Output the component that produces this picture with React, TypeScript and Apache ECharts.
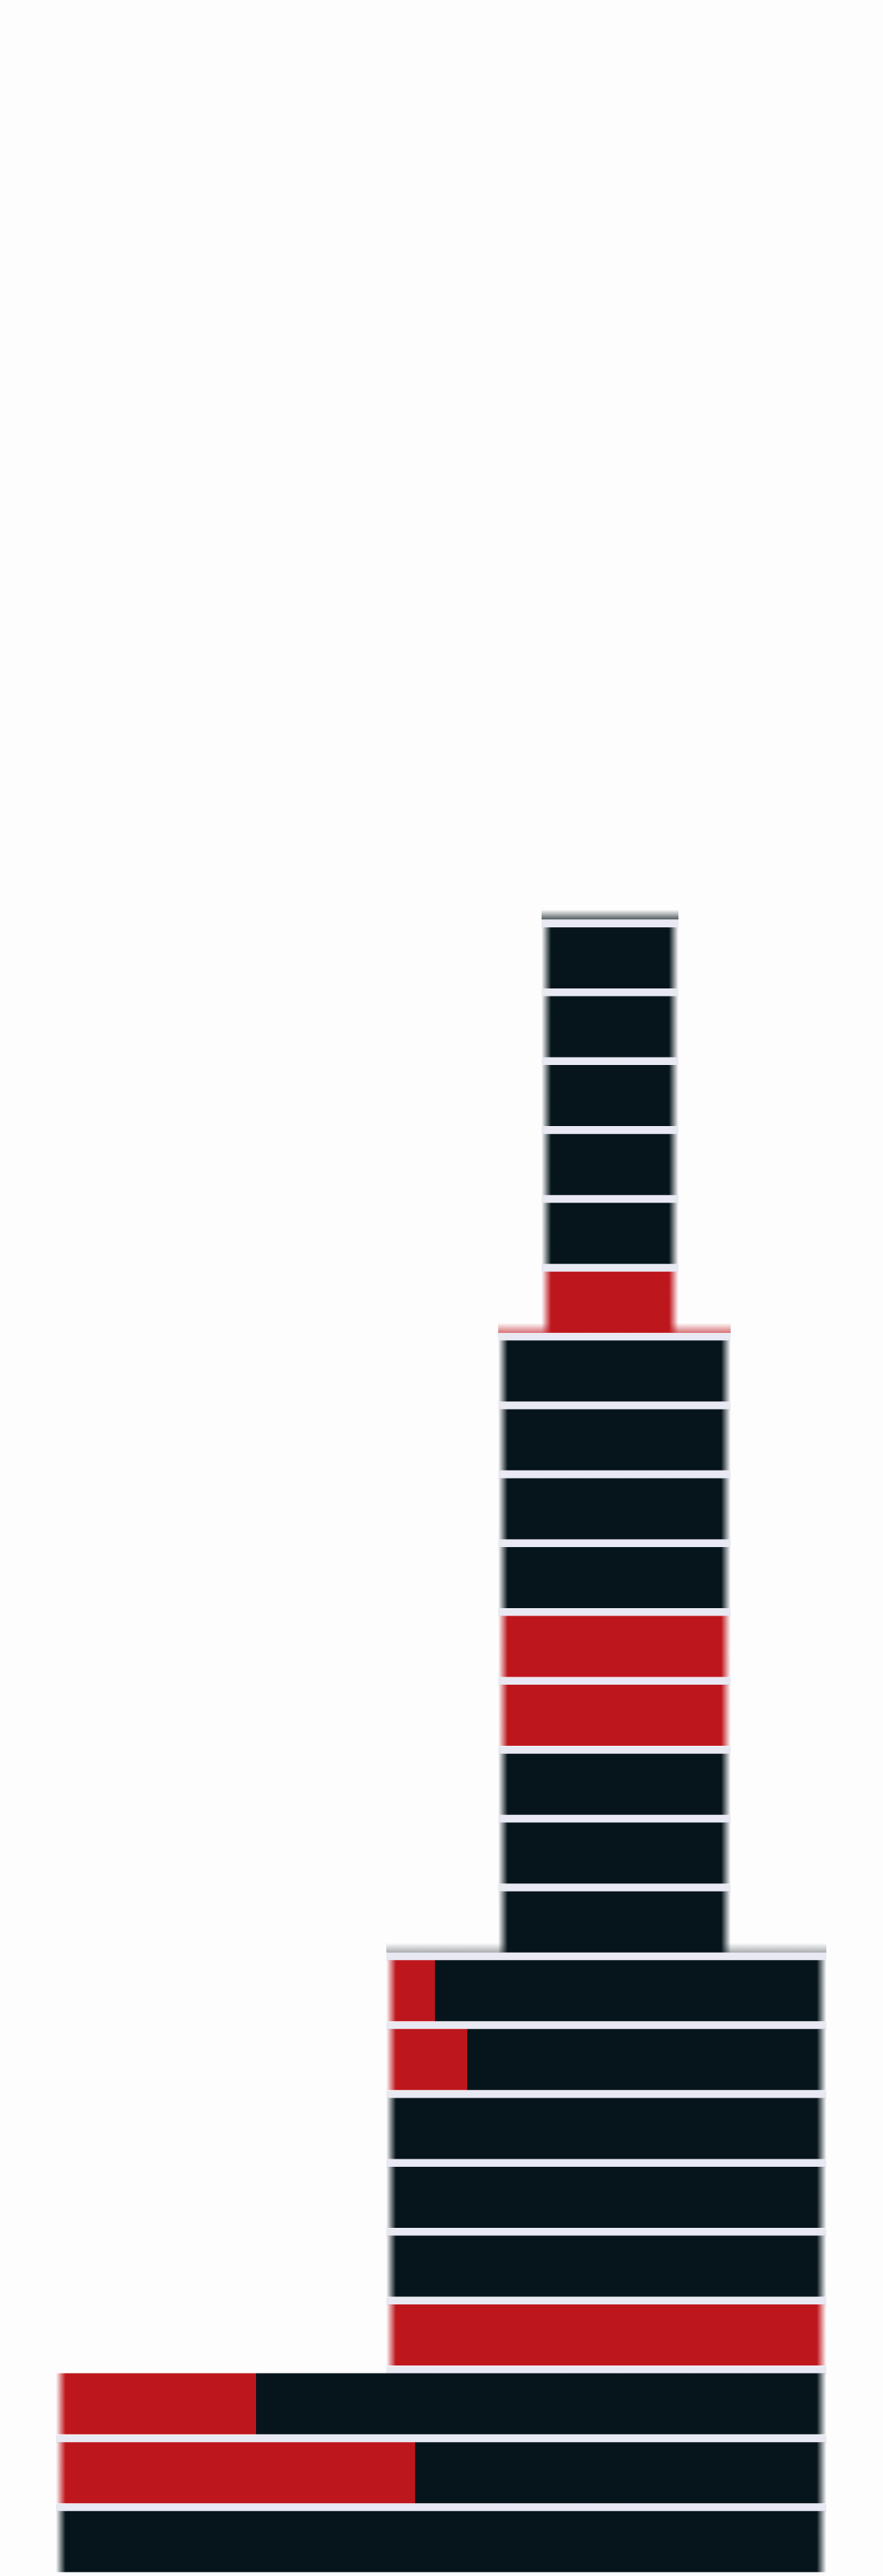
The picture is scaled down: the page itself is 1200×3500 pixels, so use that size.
import React, { useEffect, useRef } from "react";
import * as echarts from "echarts";

// ---- data (rows listed from the top of the tower down) ----
const floors = [
  "24F", "23F", "22F", "21F", "20F", "19F",
  "18F", "17F", "16F", "15F", "14F", "13F", "12F", "11F", "10F",
  "9F", "8F", "7F", "6F", "5F", "4F",
  "3F", "2F", "1F",
];
const tierOfRow = [
  0, 0, 0, 0, 0, 0,
  1, 1, 1, 1, 1, 1, 1, 1, 1,
  2, 2, 2, 2, 2, 2,
  3, 3, 3,
];
const offsetPart = [
  736, 736, 736, 736, 736, 736,
  677, 677, 677, 677, 677, 677, 677, 677, 677,
  525, 525, 525, 525, 525, 525,
  76, 76, 76,
];
const redPart = [
  0, 0, 0, 0, 0, 186,
  0, 0, 0, 0, 316, 316, 0, 0, 0,
  66, 110, 0, 0, 0, 598,
  272, 488, 0,
];
const darkPart = [
  186, 186, 186, 186, 186, 0,
  316, 316, 316, 316, 0, 0, 316, 316, 316,
  532, 488, 598, 598, 598, 0,
  775, 559, 1047,
];

// ---- styling / layout ----
const DARK: [number, number, number] = [6, 21, 28];
const RED: [number, number, number] = [190, 22, 29];
const LAVENDER = "#e9e9f3";
const ROW_TOP = 1254.7;
const PITCH = 93.59;
const BAR_H = 83;
const GAP = 10.6;
const LEDGE_H = 13.4;
const FADE = 13;
const LEDGE_ALPHA = [0.7, 0.6, 0.35, 0];

const rgb = (c: number[], a = 1) => `rgba(${c[0]},${c[1]},${c[2]},${a})`;

function hfade(c: number[], w: number, fadeL: boolean, fadeR: boolean) {
  const on = rgb(c, 1);
  const off = rgb(c, 0);
  const f = w > 0 ? FADE / w : 0;
  const stops: { offset: number; color: string }[] = [];
  if (fadeL) {
    stops.push({ offset: 0, color: off }, { offset: Math.min(0.5, f), color: on });
  } else stops.push({ offset: 0, color: on });
  if (fadeR) {
    stops.push({ offset: Math.max(0.5, 1 - f), color: on }, { offset: 1, color: off });
  } else stops.push({ offset: 1, color: on });
  return new echarts.graphic.LinearGradient(0, 0, 1, 0, stops);
}

function buildOption() {
  const n = floors.length;
  const gapShift = BAR_H / 2 + GAP / 2;
  const ledgeShift = BAR_H / 2 + GAP + LEDGE_H / 2;
  const tops = [ROW_TOP, ROW_TOP - gapShift, ROW_TOP - ledgeShift];

  const grid = tops.map((t) => ({ left: 0, right: 0, top: t, height: PITCH * n, containLabel: false }));
  const xAxis = tops.map((_, i) => ({ type: "value", gridIndex: i, min: 0, max: 1200, show: false }));
  const yAxis = tops.map((_, i) => ({
    type: "category", gridIndex: i, data: floors, inverse: true, show: false,
  }));

  const totals = redPart.map((r, i) => r + darkPart[i]);
  const isTierStart = (i: number) => i === 0 || tierOfRow[i] !== tierOfRow[i - 1];

  // lavender separator above each floor: follows the floor's own width, except where
  // a tier starts without a ledge, where it follows the floor above
  const gapSrc = floors.map((_, i) =>
    i > 0 && isTierStart(i) && LEDGE_ALPHA[tierOfRow[i]] === 0 ? i - 1 : i
  );
  const gapOffset = gapSrc.map((j) => offsetPart[j]);
  const gapWidth = gapSrc.map((j) => totals[j]);

  const ledgeVals = floors.map((_, i) => {
    const alpha = LEDGE_ALPHA[tierOfRow[i]];
    if (!isTierStart(i) || alpha === 0) return { value: 0, itemStyle: { color: "transparent" } };
    let col = DARK;
    if (i > 0 && redPart[i - 1] > 0 && darkPart[i - 1] === 0) col = RED;
    return {
      value: totals[i],
      itemStyle: {
        color: new echarts.graphic.LinearGradient(0, 0, 0, 1, [
          { offset: 0, color: rgb(col, 0) },
          { offset: 1, color: rgb(col, alpha) },
        ]),
      },
    };
  });

  const series: any[] = [
    // ledges
    {
      type: "bar", xAxisIndex: 2, yAxisIndex: 2, stack: "ledge", barWidth: LEDGE_H, z: 1,
      silent: true, itemStyle: { color: "transparent" }, data: offsetPart,
    },
    {
      type: "bar", xAxisIndex: 2, yAxisIndex: 2, stack: "ledge", barWidth: LEDGE_H, z: 1,
      silent: true, data: ledgeVals,
    },
    // lavender gaps
    {
      type: "bar", xAxisIndex: 1, yAxisIndex: 1, stack: "gap", barWidth: GAP, z: 2,
      silent: true, itemStyle: { color: "transparent" }, data: gapOffset,
    },
    {
      type: "bar", xAxisIndex: 1, yAxisIndex: 1, stack: "gap", barWidth: GAP, z: 2,
      silent: true, itemStyle: { color: LAVENDER }, data: gapWidth,
    },
    // floors
    {
      name: "offset", type: "bar", xAxisIndex: 0, yAxisIndex: 0, stack: "main", barWidth: BAR_H, z: 3,
      silent: true, itemStyle: { color: "transparent" }, data: offsetPart,
    },
    {
      name: "red", type: "bar", xAxisIndex: 0, yAxisIndex: 0, stack: "main", barWidth: BAR_H, z: 3,
      silent: true,
      data: redPart.map((v, i) => ({
        value: v,
        itemStyle: { color: hfade(RED, v, true, darkPart[i] === 0) },
      })),
    },
    {
      name: "dark", type: "bar", xAxisIndex: 0, yAxisIndex: 0, stack: "main", barWidth: BAR_H, z: 3,
      silent: true,
      data: darkPart.map((v, i) => ({
        value: v,
        itemStyle: { color: hfade(DARK, v, redPart[i] === 0, true) },
      })),
    },
  ];

  return {
    animation: false,
    backgroundColor: "#fdfdfd",
    grid,
    xAxis,
    yAxis,
    series,
  };
}

export default function App() {
  const ref = useRef<HTMLDivElement>(null);
  useEffect(() => {
    document.body.style.margin = "0";
    document.body.style.background = "#fdfdfd";
    if (!ref.current) return;
    const chart = echarts.init(ref.current, undefined, { renderer: "svg" });
    chart.setOption(buildOption() as any);
    return () => chart.dispose();
  }, []);
  return <div ref={ref} style={{ width: 1200, height: 3500 }} />;
}
